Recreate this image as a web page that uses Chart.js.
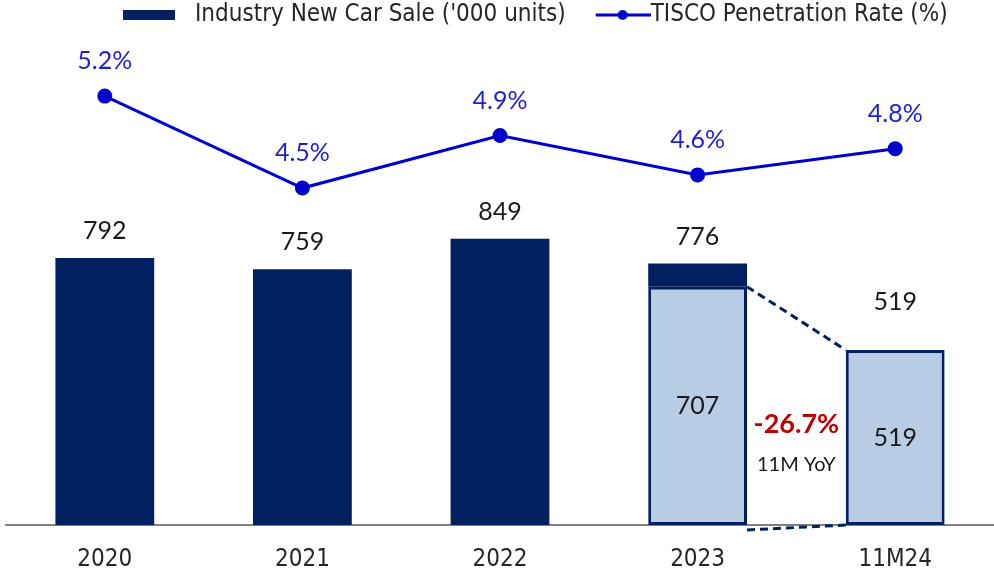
<!DOCTYPE html>
<html>
<head>
<meta charset="utf-8">
<script src="https://cdn.jsdelivr.net/npm/chart.js@4.4.1/dist/chart.umd.min.js"></script>
<style>
  html, body { margin: 0; padding: 0; background: #fff; }
</style>
</head>
<body>
<canvas id="chart" width="994" height="578"></canvas>
<script>
const categories = ['2020', '2021', '2022', '2023', '11M24'];
const fullYearSales = [792, 759, 849, 776, null];
const elevenMonthSales = [null, null, null, 707, 519];
const penetrationRate = [5.2, 4.5, 4.9, 4.6, 4.8];
const yoyLabel = '-26.7%';
const yoyCaption = '11M YoY';

const NAVY = '#002060';
const LIGHT = '#B8CCE4';
const BLUE = '#0000CC';
const narrow = "'Liberation Sans Narrow', 'DejaVu Sans Condensed', sans-serif";
const labelFont = "Lato, 'Open Sans', sans-serif";

// navy part = what the full year adds on top of the 11-month part
const navyPart = fullYearSales.map((v, i) => v == null ? null : v - (elevenMonthSales[i] || 0));
const topLabels = fullYearSales.map((v, i) => v != null ? v : elevenMonthSales[i]);

// legend markers, drawn into small canvases (centred in a 60px box)
function legendMarker(isLine) {
  const c = document.createElement('canvas');
  c.width = 84; c.height = 14;
  const g = c.getContext('2d');
  g.fillStyle = g.strokeStyle = isLine ? BLUE : NAVY;
  if (isLine) {
    g.lineWidth = 3;
    g.beginPath(); g.moveTo(29, 7); g.lineTo(84, 7); g.stroke();
    g.beginPath(); g.arc(56, 7, 5, 0, Math.PI * 2); g.fill();
  } else {
    g.fillRect(12, 2, 52, 10);
  }
  return c;
}
const barMarker = legendMarker(false);
const lineMarker = legendMarker(true);

const labelsPlugin = {
  id: 'labels',
  afterLayout(chart) {
    // the legend sits right of centre in the original
    chart.legend.left += 104;
  },
  afterDatasetsDraw(chart) {
    const ctx = chart.ctx;
    const xs = chart.scales.x, ys = chart.scales.y;
    const dots = chart.getDatasetMeta(0).data;
    const light = chart.getDatasetMeta(1).data;
    ctx.save();

    // dashed connectors between the 2023 11M part and 11M24
    const a = light[3], b = light[4];
    ctx.strokeStyle = NAVY;
    ctx.lineWidth = 3;
    ctx.setLineDash([8, 5]);
    ctx.beginPath();
    ctx.moveTo(a.x + a.width / 2, a.y);
    ctx.lineTo(b.x - b.width / 2, b.y);
    ctx.moveTo(a.x + a.width / 2, a.base + 5);
    ctx.lineTo(b.x - b.width / 2, b.base);
    ctx.stroke();
    ctx.setLineDash([]);

    ctx.textAlign = 'center';
    ctx.textBaseline = 'middle';
    ctx.font = '25px ' + labelFont;
    ctx.fillStyle = '#1a1a1a';
    categories.forEach((c, i) => {
      const x = xs.getPixelForValue(i);
      const gap = i === categories.length - 1 ? 48 : 27;
      ctx.fillText(String(topLabels[i]), x, ys.getPixelForValue(topLabels[i]) - gap);
      if (elevenMonthSales[i] != null) {
        const mid = (ys.getPixelForValue(0) + ys.getPixelForValue(elevenMonthSales[i])) / 2;
        ctx.fillText(String(elevenMonthSales[i]), x, mid);
      }
    });

    ctx.fillStyle = '#1f1fd0';
    dots.forEach((p, i) => ctx.fillText(penetrationRate[i].toFixed(1) + '%', p.x, p.y - 35));

    const mx = (a.x + b.x) / 2, base = ys.getPixelForValue(0);
    ctx.font = 'bold 27px ' + labelFont;
    ctx.fillStyle = '#C00000';
    ctx.fillText(yoyLabel, mx, base - 101);
    ctx.font = '20px ' + labelFont;
    ctx.fillStyle = '#1a1a1a';
    ctx.fillText(yoyCaption, mx, base - 60);
    ctx.restore();
  }
};

new Chart(document.getElementById('chart'), {
  data: {
    labels: categories,
    datasets: [
      {
        type: 'line',
        label: 'TISCO Penetration Rate (%)',
        data: penetrationRate,
        yAxisID: 'y1',
        borderColor: BLUE,
        backgroundColor: BLUE,
        borderWidth: 3,
        pointRadius: 6,
        pointHoverRadius: 6,
        tension: 0,
        order: 0
      },
      {
        type: 'bar',
        label: '11M',
        data: elevenMonthSales,
        yAxisID: 'y',
        backgroundColor: LIGHT,
        borderColor: NAVY,
        borderWidth: 3,
        borderSkipped: false,
        order: 1
      },
      {
        type: 'bar',
        label: "Industry New Car Sale ('000 units)",
        data: navyPart,
        yAxisID: 'y',
        backgroundColor: NAVY,
        order: 1
      }
    ]
  },
  options: {
    responsive: false,
    animation: false,
    layout: { autoPadding: false, padding: { top: -10, left: 6, right: 0, bottom: 0 } },
    datasets: { bar: { categoryPercentage: 1, barPercentage: 0.5 } },
    plugins: {
      tooltip: { enabled: false },
      legend: {
        position: 'top',
        align: 'start',
        labels: {
          usePointStyle: true,
          pointStyleWidth: 60,
          boxHeight: 10,
          padding: 13,
          color: '#262626',
          font: { family: narrow, size: 24 },
          filter: item => item.datasetIndex !== 1,
          sort: (p, q) => q.datasetIndex - p.datasetIndex,
          generateLabels(chart) {
            const items = Chart.defaults.plugins.legend.labels.generateLabels(chart);
            items.forEach(it => { it.pointStyle = it.datasetIndex === 0 ? lineMarker : barMarker; });
            return items;
          }
        }
      }
    },
    scales: {
      x: {
        stacked: true,
        grid: { display: false, drawTicks: false },
        border: { display: true, color: '#808080', width: 2 },
        ticks: { color: '#262626', padding: 20, font: { family: narrow, size: 24 } },
        afterFit(s) { s.height = 53; }
      },
      y: { display: false, stacked: true, min: 0, max: 1448 },
      y1: { display: false, min: 1.935, max: 5.65 }
    }
  },
  plugins: [labelsPlugin]
});
</script>
</body>
</html>
